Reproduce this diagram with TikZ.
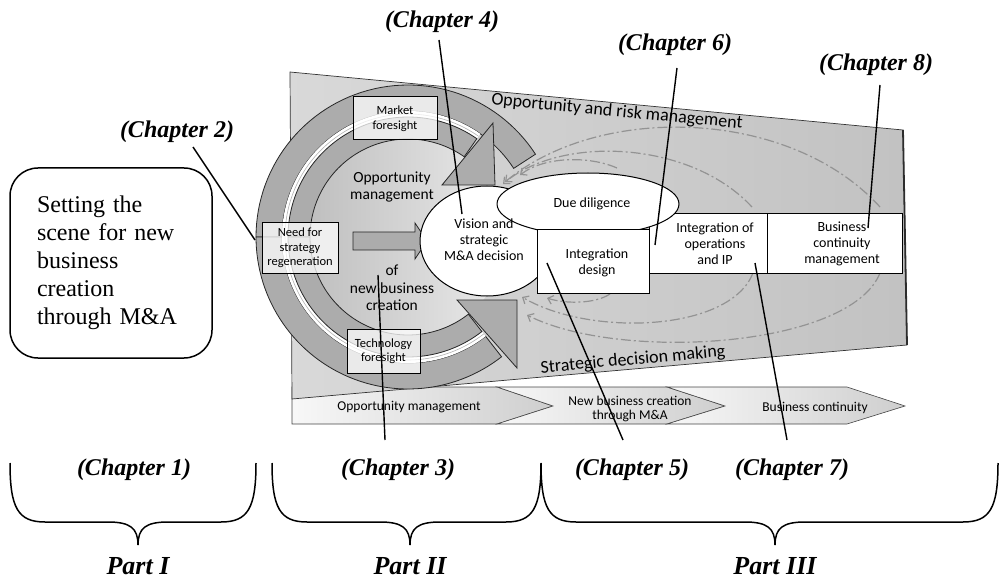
\documentclass[tikz,border=0pt]{standalone}
\usepackage{fontspec}
\setmainfont{Liberation Serif}
\newfontfamily\dg{Carlito}
\usetikzlibrary{arrows.meta,calc,shapes.geometric}
\begin{document}
\begin{tikzpicture}[x=1pt,y=-1pt,
  lbl/.style={font=\fontsize{24}{26}\selectfont\bfseries\itshape, inner sep=0pt},
  partlbl/.style={font=\fontsize{26}{28}\selectfont\bfseries\itshape, inner sep=0pt},
  leader/.style={line width=1.4pt},
  fb/.style={draw=gray!85, line width=1.2pt, dash pattern=on 10pt off 3pt on 2pt off 3pt,
     -{Straight Barb[length=5pt,width=9pt]}},
  band/.style={fill=gray!65, draw=black!85, line width=0.8pt},
  chev/.style={left color=gray!6, right color=gray!38, draw=gray!55!black, line width=0.6pt},
  tbox/.style={draw, line width=1pt, fill=white, fill opacity=0.75, text opacity=1, align=center, inner sep=0pt,
     font=\dg\fontsize{12.5}{14.5}\selectfont},
  wbox/.style={draw, line width=1pt, fill=white, inner sep=0pt},
  dgt/.style={align=center, inner sep=0pt, font=\dg\fontsize{14}{16}\selectfont},
  brace/.style={line width=1.5pt},
  ann/.style n args={4}{insert path={(#3:#2) -- plot[domain=#3:#4,samples=60] (\x:#2) -- (#4:#1) -- plot[domain=#4:#3,samples=60] (\x:#1) -- cycle}}
]
\useasboundingbox (0,0) rectangle (1004,580);

% ---------- bottom chevrons
\shadedraw[chev] (292,387) -- (497,387) -- (553,406) -- (497,424) -- (292,424) -- cycle;
\shadedraw[chev] (497,387) -- (667,387) -- (725,406) -- (667,424) -- (497,424) -- (553,406) -- cycle;
\shadedraw[chev] (667,387) -- (847,387) -- (905,406) -- (847,424) -- (667,424) -- (725,406) -- cycle;
\node[dgt, font=\dg\fontsize{13.5}{14}\selectfont] (cv1) at (409,407) {Opportunity management};
\node[dgt, font=\dg\fontsize{13.5}{14}\selectfont] (cv2) at (630,409) {New business creation\\through M\&A};
\node[dgt, font=\dg\fontsize{13.5}{14}\selectfont] (cv3) at (815,408) {Business continuity};

% ---------- main panel
\shadedraw[left color=gray!30, middle color=gray!14, right color=gray!48, draw=gray!40!black, line width=0.7pt]
  (290,72) -- (903,130) -- (907,345) -- (292,399) -- cycle;
\draw[line width=1.8pt, gray!35!black] (903,130) -- (907,345);
\node[rotate=-5.4, font=\dg\fontsize{18}{20}\selectfont, inner sep=0pt] (orm) at (617,112) {Opportunity and risk management};
\node[rotate=5.2, font=\dg\fontsize{18}{20}\selectfont, inner sep=0pt] (sdm) at (633,360) {Strategic decision making};

% ---------- feedback arrows (dash-dot)
\coordinate (t3a) at (880,207); \coordinate (t3b) at (505,182);
\coordinate (t2a) at (752,207); \coordinate (t2b) at (503,184);
\coordinate (t1a) at (617,168); \coordinate (t1b) at (520,175);
\coordinate (b1a) at (610,294); \coordinate (b1b) at (547,298);
\coordinate (b2a) at (753,273); \coordinate (b2b) at (522,297);
\coordinate (b3a) at (880,273); \coordinate (b3b) at (527,315);
\draw[fb] (t3a) .. controls (790,108) and (600,103) .. (t3b);
\draw[fb] (t2a) .. controls (690,140) and (560,135) .. (t2b);
\draw[fb] (t1a) .. controls (590,156) and (545,156) .. (t1b);
\draw[fb] (b1a) .. controls (595,304) and (565,304) .. (b1b);
\draw[fb] (b2a) .. controls (730,332) and (590,337) .. (b2b);
\draw[fb] (b3a) .. controls (850,348) and (620,362) .. (b3b);

% ---------- ring
\begin{scope}[shift={(408,237)}]
  \shade[left color=gray!50, right color=gray!16] (0,0) circle[radius=98];
  % top arrow
  \filldraw[band, ann={126}{152}{180}{327}];
  \fill[white, ann={120}{126}{180}{305}];
  \draw[gray!60, line width=0.6pt] plot[domain=180:305,samples=60] (\x:123);
  \filldraw[band, ann={98}{120}{180}{305}];
  % bottom arrow
  \filldraw[band, ann={126}{152}{52}{180}];
  \fill[white, ann={120}{126}{52}{180}];
  \draw[gray!60, line width=0.6pt] plot[domain=52:180,samples=60] (\x:123);
  \filldraw[band, ann={98}{120}{52}{180}];
\end{scope}
\filldraw[band] (442,185) -- (493,123) -- (495,185) -- cycle;
\filldraw[band] (457,300) -- (517,300) -- (517,368) -- cycle;

% ring boxes and texts
\node[tbox, minimum width=84, minimum height=43] (mkt) at (395,118.5) {Market\\foresight};
\node[tbox, minimum width=76, minimum height=50] (need) at (300,248) {Need for\\strategy\\regeneration};
\node[tbox, minimum width=73, minimum height=44] (tech) at (383.5,351) {Technology\\foresight};
\filldraw[band] (353,232) -- (415,232) -- (415,223) -- (427,241) -- (415,259) -- (415,250) -- (353,250) -- cycle;
\node[dgt, font=\dg\fontsize{15.5}{17}\selectfont] (om) at (392,187) {Opportunity\\management};
\node[dgt, font=\dg\fontsize{15.5}{17.5}\selectfont] (nbc) at (392,288) {of\\new business\\creation};

% ---------- process shapes
\node[ellipse, wbox, minimum width=134, minimum height=110] (vis) at (487,241) {};
\node[wbox, minimum width=118, minimum height=59] (iop) at (708,243.5) {};
\node[wbox, minimum width=135, minimum height=59] (bcm) at (834.5,243.5) {};
\node[ellipse, wbox, minimum width=182, minimum height=62] (dd) at (588,204) {};
\node[wbox, minimum width=112, minimum height=63] (intd) at (593,261.5) {};
\node[dgt] (vist) at (484,240) {Vision and\\strategic\\M\&A decision};
\node[dgt] (ddt) at (592,204) {Due diligence};
\node[dgt] (intdt) at (597,263) {Integration\\design};
\node[dgt] (iopt) at (715,244) {Integration of\\operations\\and IP};
\node[dgt] (bcmt) at (842,244) {Business\\continuity\\management};

% ---------- left box
\node[draw, rounded corners=28pt, line width=1.5pt, minimum width=202, minimum height=190,
      text width=148, inner xsep=27pt, align=left,
      font=\fontsize{24}{28}\selectfont] (scene) at (111,263)
  {Setting the\\scene for new\\business\\creation\\through M\&A};

% ---------- chapter labels and leader lines
\node[lbl] (ch2) at (177,132) {(Chapter 2)};
\node[lbl] (ch4) at (442,22) {(Chapter 4)};
\node[lbl] (ch6) at (675,45) {(Chapter 6)};
\node[lbl] (ch8) at (876,65) {(Chapter 8)};
\node[lbl] (ch1) at (134,470) {(Chapter 1)};
\node[lbl] (ch3) at (398,470) {(Chapter 3)};
\node[lbl] (ch5) at (632,470) {(Chapter 5)};
\node[lbl] (ch7) at (792,470) {(Chapter 7)};
\coordinate (l2a) at (193,147); \coordinate (l2b) at (255,240);
\coordinate (l4a) at (439,40);  \coordinate (l4b) at (462,214);
\coordinate (l6a) at (677,68);  \coordinate (l6b) at (655,245);
\coordinate (l8a) at (880,85);  \coordinate (l8b) at (868,228);
\coordinate (l3a) at (378,275); \coordinate (l3b) at (385,440);
\coordinate (l5a) at (547,263); \coordinate (l5b) at (623,440);
\coordinate (l7a) at (755,263); \coordinate (l7b) at (787,440);
\draw[leader] (l2a) -- (l2b);
\draw[leader] (l4a) -- (l4b);
\draw[leader] (l6a) -- (l6b);
\draw[leader] (l8a) -- (l8b);
\draw[leader] (l3a) -- (l3b);
\draw[leader] (l5a) -- (l5b);
\draw[leader] (l7a) -- (l7b);

% ---------- braces
\draw[brace] (10,463) .. controls (10,508) and (18,522) .. (45,522) -- (108,522)
   .. controls (130,522) and (138,528) .. (138,545);
\draw[brace] (256,463) .. controls (256,508) and (248,522) .. (221,522) -- (168,522)
   .. controls (146,522) and (138,528) .. (138,545);
\draw[brace] (272,463) .. controls (272,508) and (280,522) .. (307,522) -- (380,522)
   .. controls (402,522) and (410,528) .. (410,545);
\draw[brace] (541,463) .. controls (541,508) and (533,522) .. (506,522) -- (440,522)
   .. controls (418,522) and (410,528) .. (410,545);
\draw[brace] (541,463) .. controls (541,508) and (549,522) .. (576,522) -- (745,522)
   .. controls (767,522) and (775,528) .. (775,545);
\draw[brace] (998,463) .. controls (998,508) and (990,522) .. (963,522) -- (805,522)
   .. controls (783,522) and (775,528) .. (775,545);
\node[partlbl] (p1) at (138,566) {Part I};
\node[partlbl] (p2) at (410,566) {Part II};
\node[partlbl] (p3) at (775,566) {Part III};
\end{tikzpicture}
\end{document}
